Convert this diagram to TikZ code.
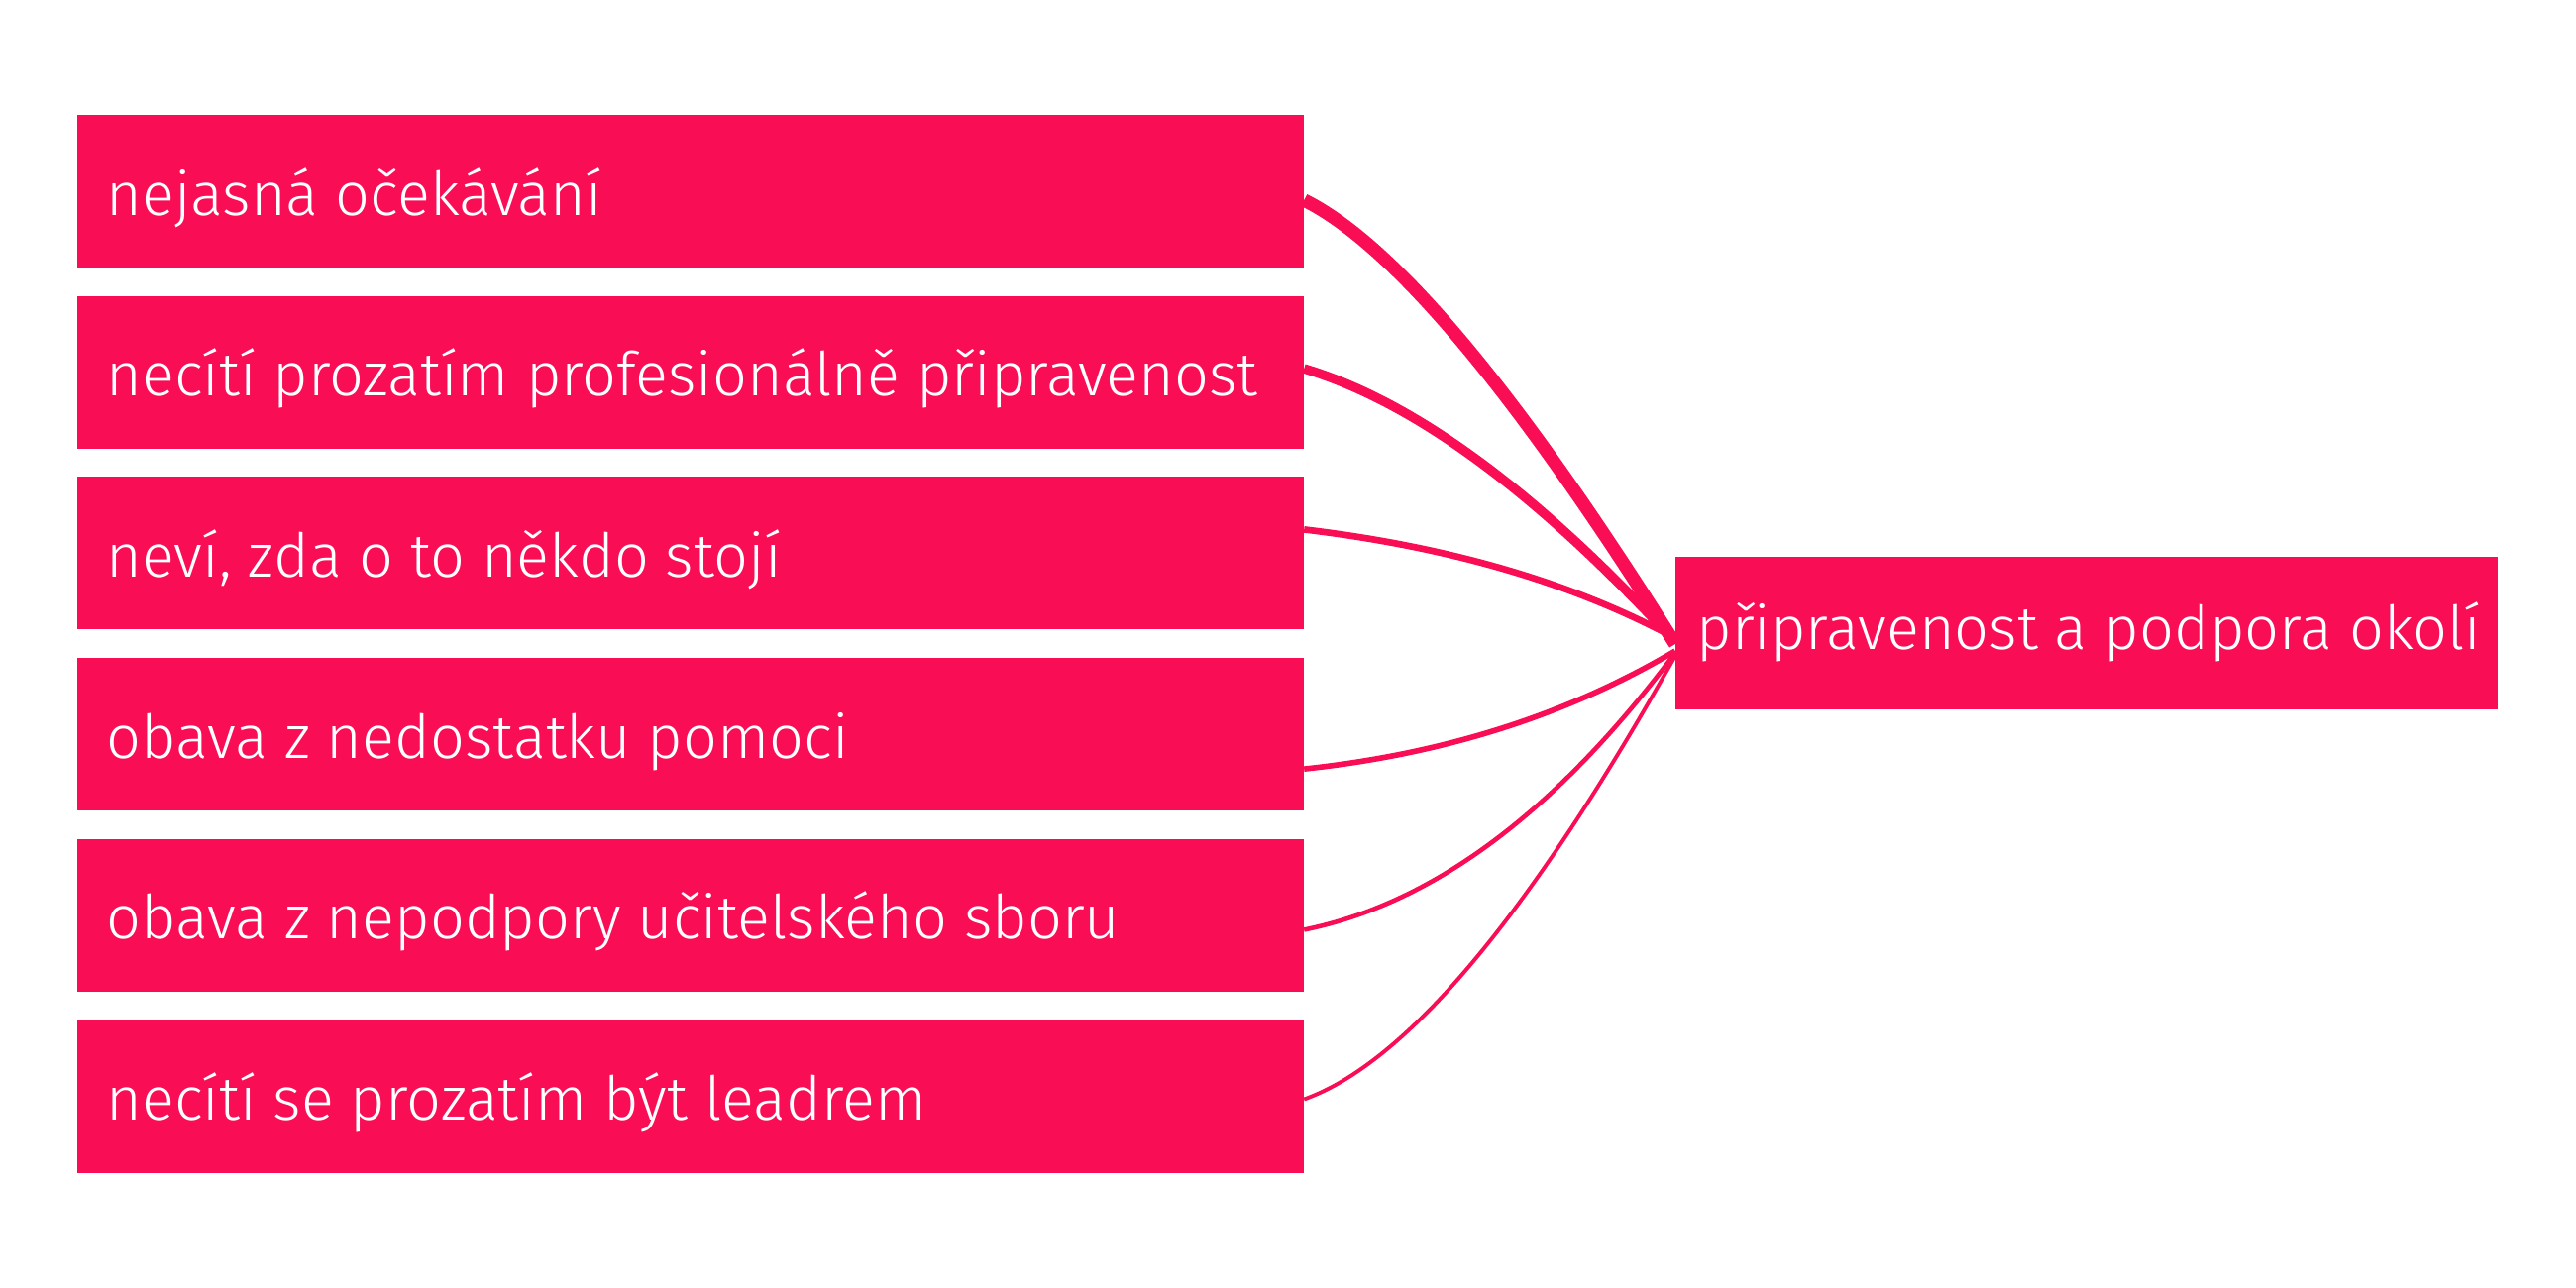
\documentclass[tikz,border=0pt]{standalone}
\usepackage{fontspec}
\setmainfont{Fira Sans Light}
\usetikzlibrary{positioning}
\definecolor{ruzova}{HTML}{F90E56}

\begin{document}
\begin{tikzpicture}[x=0.01cm, y=-0.01cm,
  box/.style={fill=ruzova, minimum width=12.377cm, minimum height=1.54cm, inner sep=0pt, outer sep=0pt},
  txt/.style={text=white, font=\fontsize{17.4}{20}\selectfont, anchor=base west, inner sep=0pt},
  flow/.style={draw=ruzova}]

\useasboundingbox (0,0) rectangle (2600,1300);

% boxes on the left
\node[box] (b1) at (697,193) {};
\node[box, below=0.286cm of b1] (b2) {};
\node[box, below=0.286cm of b2] (b3) {};
\node[box, below=0.286cm of b3] (b4) {};
\node[box, below=0.286cm of b4] (b5) {};
\node[box, below=0.286cm of b5] (b6) {};
\node[box, minimum width=8.3cm] (okoli) at (2106,639) {};

\node[txt] (t1) at ([xshift=0.29cm, yshift=-0.24cm]b1.west) {nejasná očekávání};
\node[txt] (t2) at ([xshift=0.29cm, yshift=-0.24cm]b2.west) {necítí prozatím profesionálně připravenost};
\node[txt] (t3) at ([xshift=0.29cm, yshift=-0.24cm]b3.west) {neví, zda o to někdo stojí};
\node[txt] (t4) at ([xshift=0.29cm, yshift=-0.24cm]b4.west) {obava z nedostatku pomoci};
\node[txt] (t5) at ([xshift=0.29cm, yshift=-0.24cm]b5.west) {obava z nepodpory učitelského sboru};
\node[txt] (t6) at ([xshift=0.29cm, yshift=-0.24cm]b6.west) {necítí se prozatím být leadrem};
\node[txt] (t7) at ([xshift=0.21cm, yshift=-0.16cm]okoli.west) {připravenost a podpora okolí};

% flows
\draw[flow, line width=3.8pt] ([yshift=-0.09cm]b1.east) .. controls (1407,247) and (1532,397) .. ([yshift=-0.11cm]okoli.west);
\draw[flow, line width=2.7pt] ([yshift=0.036cm]b2.east) .. controls (1427,405) and (1552,497) .. ([yshift=-0.09cm]okoli.west);
\draw[flow, line width=1.9pt] ([yshift=0.24cm]b3.east) .. controls (1464,552) and (1589,589) .. ([yshift=-0.05cm]okoli.west);
\draw[flow, line width=1.6pt] ([yshift=-0.35cm]b4.east) .. controls (1458,761) and (1583,721) .. ([yshift=-0.18cm]okoli.west);
\draw[flow, line width=1.3pt] ([yshift=-0.146cm]b5.east) .. controls (1447,912) and (1571,819) .. ([yshift=-0.2cm]okoli.west);
\draw[flow, line width=1.1pt] ([yshift=-0.03cm]b6.east) .. controls (1419,1073) and (1544,924) .. ([yshift=-0.23cm]okoli.west);
\end{tikzpicture}
\end{document}
